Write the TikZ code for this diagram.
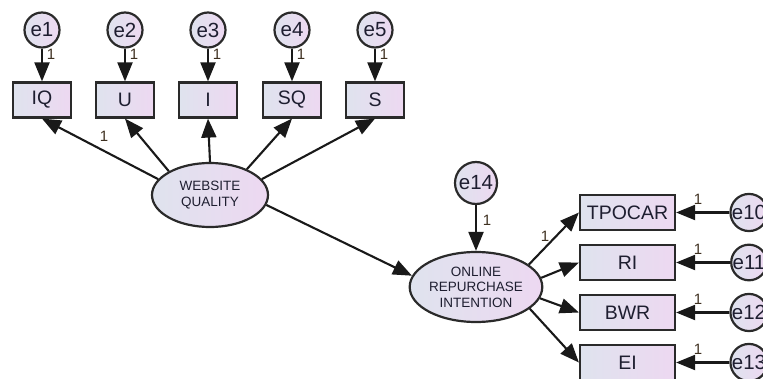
\documentclass[tikz,border=0pt]{standalone}
\usepackage{fontspec}
\setmainfont{Liberation Sans}
\usetikzlibrary{arrows.meta,shapes.geometric}

\definecolor{inkc}{HTML}{1E1E30}
\definecolor{edgec}{HTML}{2A2A2A}
\definecolor{fillL}{HTML}{DFE3EE}
\definecolor{fillR}{HTML}{EDD8F1}
\definecolor{onec}{HTML}{3E3020}

\tikzset{
  x=1pt, y=-1pt,
  shade/.style={left color=fillL, right color=fillR, draw=edgec, line width=2.2pt, text=inkc},
  obsbox/.style={shade, rectangle, inner sep=0pt, minimum height=35pt,
                 font=\fontsize{19.5}{22}\selectfont},
  leftbox/.style={obsbox, minimum width=58pt},
  rightbox/.style={obsbox, minimum width=95pt},
  errc/.style={shade, circle, inner sep=0pt, minimum size=35pt,
               font=\fontsize{20.5}{22}\selectfont},
  bigerr/.style={errc, minimum size=42pt},
  latent/.style={shade, ellipse, inner sep=0pt, align=center,
                 font=\fontsize{13.5}{15.5}\selectfont},
  path/.style={draw=black!90, line width=2.1pt,
               -{Triangle[length=19pt,width=15pt]}},
  wt/.style={text=onec, font=\fontsize{15}{15}\selectfont, inner sep=0pt}
}

\begin{document}
\begin{tikzpicture}
\useasboundingbox (0,0) rectangle (763,379);
\clip (0,0) rectangle (763,379);

% indicators of website quality and their error terms
\foreach \n/\x/\lab in {1/42/IQ,2/125/U,3/208/I,4/292/SQ,5/375/S}{
  \node[errc] (e\n) at (\x,30) {e\n};
  \node[leftbox] (b\n) at (\x,100) {\lab};
  \draw[path] (e\n) -- (b\n);
  \node[wt] at (\x+9,54) {1};
}

% latent constructs
\node[latent, minimum width=116pt, minimum height=64pt] (wq) at (210,195)
  {WEBSITE\\QUALITY};
\node[latent, minimum width=118pt, minimum height=70pt] (ori) at (476,287)
  {ONLINE\\REPURCHASE\\INTENTION};
\node[bigerr] (e14) at (476,183) {e14};

% indicators of repurchase intention
\node[rightbox] (r1) at (627.5,212.5) {TPOCAR};
\node[rightbox] (r2) at (627.5,262.5) {RI};
\node[rightbox] (r3) at (627.5,312.5) {BWR};
\node[rightbox] (r4) at (627.5,362.5) {EI};
\node[errc] (e10) at (749,212.5) {e10};
\node[errc] (e11) at (749,262.5) {e11};
\node[errc] (e12) at (749,312.5) {e12};
\node[errc] (e13) at (749,362.5) {e13};

% loadings of website quality
\draw[path] (wq.163) -- (b1.south);
\draw[path] (wq.150) -- (b2.south);
\draw[path] (wq.north) -- (b3.south);
\draw[path] (wq.35) -- (b4.south);
\draw[path] (wq.17) -- (b5.south);
\node[wt] at (104,136) {1};

% structural path and disturbance
\draw[path] (wq.-10) -- (ori.170);
\draw[path] (e14) -- (ori.north);
\node[wt] at (487,220) {1};

% loadings of repurchase intention
\draw[path] (ori.23) -- (r1.west);
\draw[path] (ori.8) -- (r2.west);
\draw[path] (ori.-10) -- (r3.west);
\draw[path] (ori.-22) -- (r4.west);
\node[wt] at (545,236) {1};

% error terms of the right indicators
\foreach \k/\i in {10/1,11/2,12/3,13/4}{
  \draw[path] (e\k.west) -- (r\i.east);
}
\foreach \y in {199,249,299,349}{
  \node[wt] at (698,\y) {1};
}
\end{tikzpicture}
\end{document}
